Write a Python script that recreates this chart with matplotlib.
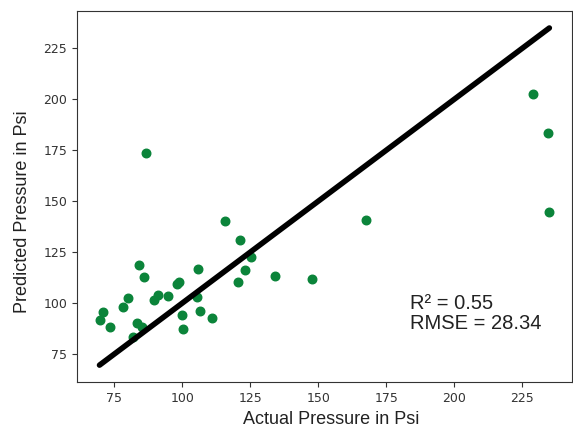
import matplotlib
matplotlib.use("Agg")
from matplotlib import pyplot as plt

# actual vs predicted pressure (psi)
actual = [69.5, 70.7, 73.5, 78.0, 80.1, 81.7, 83.3, 83.9, 85.3, 85.7,
          86.6, 89.6, 91.1, 94.7, 97.9, 98.7, 99.7, 100.2, 105.2, 105.8,
          106.6, 110.9, 115.5, 120.4, 121.2, 123.1, 125.3, 134.0, 147.7,
          167.4, 229.0, 234.4, 234.9]
predicted = [91.5, 95.6, 88.2, 98.0, 102.4, 83.3, 90.2, 118.8, 88.2, 112.7,
             173.7, 101.3, 104.0, 103.2, 109.5, 110.3, 93.9, 87.3, 102.7, 116.8,
             95.9, 92.6, 140.0, 110.3, 130.7, 116.0, 122.5, 113.0, 111.9,
             140.5, 202.5, 183.6, 144.6]
stats_text = "R² = 0.55\nRMSE = 28.34"

fig = plt.figure(figsize=(5.73, 4.28), dpi=100)
ax = fig.add_axes([0.1344, 0.1075, 0.8636, 0.8665])

lo = min(actual)
hi = max(actual)
ax.plot([lo, hi], [lo, hi], color="black", lw=4, solid_capstyle="round", zorder=3)
ax.scatter(actual, predicted, s=38, color="#0b843a", zorder=2)

ax.set_xticks([75, 100, 125, 150, 175, 200, 225])
ax.set_yticks([75, 100, 125, 150, 175, 200, 225])
ax.tick_params(labelsize=9, colors="#333333")
for sp in ax.spines.values():
    sp.set_color("#333333")

fig.text(0.578, 0.019, "Actual Pressure in Psi", family="Liberation Sans",
         fontsize=13, ha="center", va="center", color="#222222")
fig.text(0.040, 0.505, "Predicted Pressure in Psi", family="Liberation Sans",
         fontsize=13, ha="center", va="center", rotation=90, color="#222222")

fig.text(0.716, 0.268, stats_text, family="Liberation Sans", fontsize=14.5,
         ha="left", va="center", linespacing=1.1, color="#222222")

fig.savefig("out.png", dpi=100)
